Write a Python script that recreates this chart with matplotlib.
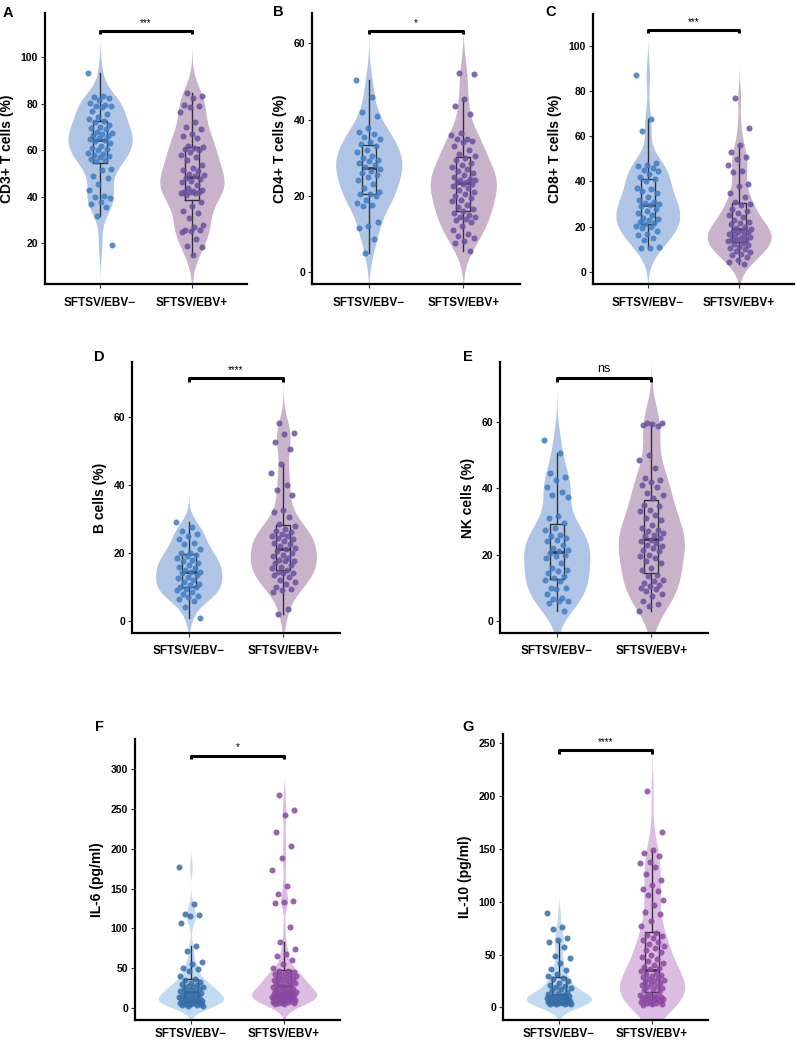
import numpy as np
import matplotlib
matplotlib.use("Agg")
import matplotlib.pyplot as plt

plt.rcParams["font.family"] = ["Liberation Sans", "DejaVu Sans"]

groups = ["SFTSV/EBV\u2212", "SFTSV/EBV+"]

# --- values ---
cd3_neg = [93.4, 83.5, 83, 82.5, 81.5, 80.5, 79.5, 79.2, 79, 78.5, 77, 75.5, 74.5, 73.5,
           72.5, 72, 71, 70, 69.5, 69, 68, 67.5, 67, 66.5, 66, 65.5, 65, 64.5, 64, 63, 62,
           61, 60.5, 60, 59, 58.5, 58, 57.5, 57, 56.5, 56, 55.5,
           52, 51.5, 49, 48, 45.5, 43, 40.5, 40, 39.5, 38, 37, 35.5, 32, 19.5]
cd3_pos = [84.5, 83.5, 82.5, 79.5, 79, 78.5, 76.5, 72, 70, 69, 67, 66, 65.5, 62, 61.5,
           61, 60.5, 60, 59.5, 58, 57, 56, 53.5, 52.5, 51.5, 51, 50, 49.5, 49, 48, 47.5,
           47, 46.5, 45, 44, 43, 42.5, 42.2, 42, 42, 41.8, 41.5, 41, 38, 36, 34, 33, 31,
           28, 27, 26, 26, 25.5, 25, 22, 19, 18.5, 15]

cd4_neg = [50.5, 46, 42, 41, 37.8, 36.7, 36.2, 35.5, 35, 34, 33.5, 33, 32, 31.5, 30.5,
           30, 29.5, 29, 28.5, 28, 27.5, 27, 26.5, 26, 25.5, 25, 24, 23, 22, 21, 20.5,
           20.5, 20, 19, 18, 17.5, 17.2, 13, 12, 11.5, 8.5, 5]
cd4_pos = [52.2, 52, 45.5, 43.5, 41.5, 36.5, 36, 35, 35, 34.5, 34, 33, 32, 31, 30.5, 30,
           29.5, 28.5, 28, 27.5, 27, 26.5, 26, 25.5, 25, 24.5, 24, 24, 23.5, 23.5, 23, 23,
           22.5, 22, 21.5, 21, 20.5, 20, 19.5, 19, 18.5, 17.5, 17, 16.5, 16, 15.5, 15,
           14.5, 14.5, 14, 13.5, 13, 12, 11, 10, 9.5, 9, 8, 7.5, 5.5]

cd8_neg = [87, 67.5, 62.5, 48, 47.5, 47, 46, 45, 44.5, 43.5, 42, 41, 40, 37, 36.5, 36,
           35, 33, 32, 31, 30.5, 30, 29.5, 29, 28, 27, 26, 25, 24, 23.5, 23, 22, 21.5, 21,
           20.5, 20, 19.5, 18, 17, 16.5, 15, 14, 11, 10.5, 10.5]
cd8_pos = [77, 63.5, 56, 53, 51, 50, 47.5, 44.5, 44, 39, 38, 35, 33, 31, 30, 29.5, 28,
           27, 26, 25, 24.5, 23, 22, 21.5, 21, 20, 19.5, 19, 18.5, 18, 17.5, 17.5, 17,
           16.5, 16, 15.5, 15, 14.5, 14, 14, 13.5, 13, 12.5, 12, 11, 10.5, 10, 9.5, 9, 8,
           7.5, 6.5, 5.5, 4.5, 3.5]

b_neg = [29, 27.5, 26.5, 25.5, 25, 24, 23, 22.5, 21, 20, 20, 19.5, 19, 18.5, 18, 17.5,
         17, 16.5, 16, 15.5, 15, 14.5, 14.5, 14, 13.5, 13, 12.5, 12, 11.5, 11, 10.5, 10,
         10, 9.5, 9, 8.5, 8, 7.5, 7, 6.5, 6, 4, 1]
b_pos = [58, 55.2, 55, 52.5, 50.5, 46, 43.5, 40, 38.5, 37, 32.5, 32, 30.5, 28.5, 28, 27,
         26.5, 26, 25.5, 25, 25, 24.5, 24, 23.5, 23, 22.5, 22, 21.5, 21, 20.5, 20, 19.5,
         19, 18.5, 18, 17.5, 17.5, 17, 16.5, 16, 15.5, 15, 14.5, 14, 14, 13.5, 13, 12,
         11.5, 11, 10, 9.5, 9, 8.5, 3.5, 2]

nk_neg = [54.5, 50.5, 44.5, 43.5, 42.5, 40.5, 39, 38, 37.5, 31.5, 31, 29.5, 28, 27.5, 26,
          25.5, 25, 24.5, 24, 23, 22, 21.5, 21, 20.5, 20, 19.5, 19, 17.5, 16, 15.5, 15,
          14.5, 13.5, 13, 12.5, 12, 10, 10, 9.5, 8, 7, 6.5, 6, 6, 5.5, 3]
nk_pos = [59.7, 59.5, 59.3, 59, 58.8, 50, 48.5, 46, 43, 42.5, 42, 41, 40.5, 38.5, 38, 37,
          35, 34.5, 33.5, 33, 32, 31, 30.5, 29, 28, 27.5, 27, 26.5, 26, 25.5, 25, 24.5,
          24, 23.5, 23, 22.5, 22, 21.5, 21, 20, 19.5, 19, 18, 17.5, 16, 15.5, 14, 13.5,
          12.5, 12, 11.5, 11, 10.5, 10, 9.5, 9, 8, 7.5, 6, 5, 4.5, 3]

il6_neg = [177, 131, 118, 117, 115.5, 107, 78, 72, 58, 55, 50, 49, 46, 40,
           36, 35, 33, 32, 30, 29, 28, 27, 26, 25, 24, 23, 22, 21,
           20, 19, 18, 17, 16, 15, 14, 13.5, 13, 12, 11.5, 11, 10, 9.5,
           9, 8.5, 8, 7.5, 7, 6.5, 6, 5.5, 5, 4.5, 4, 3.5, 3, 2.5]
il6_pos = [268, 249, 242, 221, 204, 189, 174, 153, 143, 134, 133, 132, 102, 83, 74, 68,
           66, 61, 55, 50,
           47, 46, 45, 44, 43, 42, 41, 40, 39, 38, 37, 36, 35, 34, 33, 32, 31, 30, 29, 28,
           27, 26, 25, 24, 23, 22, 21.5, 21, 20.5, 20, 19.5, 19, 18.5, 18, 17.5, 17, 16.5,
           16, 15.5, 15,
           14.5, 14, 13.5, 13, 12.5, 12, 11.5, 11, 10.5, 10, 9.5, 9, 8.5, 8, 7.5, 7, 6.5,
           6, 5.5, 5]

il10_neg = [89, 76, 74, 65.5, 64, 61.5, 57, 49, 47, 42, 36, 35, 32, 30,
            28, 27, 25, 23, 21, 20, 19, 18, 17, 16, 15, 14, 13, 12,
            11, 10.5, 10, 9.5, 9, 8.8, 8.5, 8, 7.5, 7.2, 7, 6.8, 6.5, 6.2,
            6, 5.8, 5.5, 5.3, 5, 4.8, 4.5, 4.3, 4, 3.8, 3.5, 3.3, 3, 2.8]
il10_pos = [205, 166, 149, 146, 143, 138, 137, 133, 126, 121, 116, 112, 110, 106, 102, 97,
            90, 88, 82, 77,
            70, 69, 68, 66, 64, 62, 60, 58, 56, 54, 52, 50, 48, 46, 44, 42, 40, 38, 37, 36,
            34, 33, 32, 31, 30, 29, 28, 27, 26, 25, 24, 23, 22, 21, 20, 19, 18, 17, 16, 15,
            13, 12, 11, 10.5, 10, 9.5, 9, 8.5, 8, 7.5, 7, 6.5, 6, 5.5, 5, 4.5, 4, 3.5, 3,
            2.5]

ylabels = ["CD3+ T cells (%)", "CD4+ T cells (%)", "CD8+ T cells (%)", "B cells (%)",
           "NK cells (%)", "IL-6 (pg/ml)", "IL-10 (pg/ml)"]
letters = ["A", "B", "C", "D", "E", "F", "G"]
signif = ["***", "*", "***", "****", "ns", "*", "****"]
sig_y = [111.3, 63.3, 106.9, 71.2, 73.1, 317, 243.6]

W, H = 796, 1041
# axes boxes in pixels: x0, x1, y0 (top), y1 (bottom)
boxes = [(45, 247, 13, 284), (312, 520, 13, 284), (593, 794, 14, 284),
         (132, 340, 362, 633), (500, 708, 362, 633),
         (135, 340, 739, 1020), (503, 708, 734, 1020)]
ylims = [(2.6, 119), (-3.2, 68), (-5.3, 114), (-3.5, 76), (-3.6, 78), (-15, 338), (-12, 259)]
yticks = [[20, 40, 60, 80, 100], [0, 20, 40, 60], [0, 20, 40, 60, 80, 100], [0, 20, 40, 60],
          [0, 20, 40, 60], [0, 50, 100, 150, 200, 250, 300], [0, 50, 100, 150, 200, 250]]
letter_pos = [(3, 6), (273, 5), (545, 5), (94, 350), (463, 350), (95, 720), (462, 720)]

data = [(cd3_neg, cd3_pos), (cd4_neg, cd4_pos), (cd8_neg, cd8_pos), (b_neg, b_pos),
        (nk_neg, nk_pos), (il6_neg, il6_pos), (il10_neg, il10_pos)]

cells_col = (("#b0c5e6", "#3f7cc2"), ("#c8b3cb", "#6a509f"))
cyto_col = (("#c3dbf1", "#356ea8"), ("#dbbde1", "#8b48a0"))


def kde_violin(ax, vals, pos, color, width=0.7):
    vals = np.asarray(vals, float)
    n = len(vals)
    q75, q25 = np.percentile(vals, [75, 25])
    bw = 0.9 * min(vals.std(ddof=1), (q75 - q25) / 1.34) * n ** -0.2
    grid = np.linspace(vals.min() - 3 * bw, vals.max() + 3 * bw, 400)
    dens = np.exp(-0.5 * ((grid[:, None] - vals[None, :]) / bw) ** 2).sum(axis=1)
    dens = dens / dens.max() * width / 2
    ax.fill_betweenx(grid, pos - dens, pos + dens, color=color, lw=0, zorder=1)


fig = plt.figure(figsize=(W / 100, H / 100), dpi=100)

for i in range(7):
    x0, x1, y0, y1 = boxes[i]
    ax = fig.add_axes([x0 / W, 1 - y1 / H, (x1 - x0) / W, (y1 - y0) / H])
    cols = cyto_col if i >= 5 else cells_col
    for j, vals in enumerate(data[i]):
        pos = j + 1
        kde_violin(ax, vals, pos, cols[j][0])
        ax.boxplot([vals], positions=[pos], widths=0.15, showfliers=False,
                   patch_artist=False, manage_ticks=False, zorder=3,
                   boxprops=dict(color="#333333", lw=1.0),
                   whiskerprops=dict(color="#333333", lw=1.0),
                   capprops=dict(lw=0),
                   medianprops=dict(color="#333333", lw=2.0))
        k = np.arange(len(vals))
        jit = ((k * 0.6180339 + 0.31 * j) % 1 - 0.5) * 0.26
        ax.scatter(pos + jit, vals, s=19, color=cols[j][1], alpha=0.85,
                   lw=0, zorder=4)

    lo, hi = ylims[i]
    ax.set_xlim(0.4, 2.6)
    ax.set_ylim(lo, hi)
    ax.set_yticks(yticks[i])
    ax.set_xticks([1, 2])
    ax.set_xticklabels(groups)
    for s in ["top", "right"]:
        ax.spines[s].set_visible(False)
    for s in ["left", "bottom"]:
        ax.spines[s].set_linewidth(1.6)
    ax.tick_params(axis="both", length=3, width=0.8, color="#333333")
    ax.tick_params(axis="y", labelsize=7.5, pad=2)
    ax.tick_params(axis="x", labelsize=8.5, pad=3 if i >= 5 else 6)
    for lab in ax.get_xticklabels() + ax.get_yticklabels():
        lab.set_fontweight("bold")
    ax.set_ylabel(ylabels[i], fontsize=10, fontweight="bold", labelpad=5)

    # significance bracket
    yb = sig_y[i]
    d = (hi - lo) * 0.012
    ax.plot([1, 1, 2, 2], [yb - d, yb, yb, yb - d], color="black", lw=2.2,
            solid_capstyle="butt", zorder=5, clip_on=False)
    fs = 9 if signif[i] == "ns" else 7
    ax.text(1.5, yb + (hi - lo) * 0.012, signif[i], ha="center", va="bottom",
            fontsize=fs, zorder=5)

    lx, ly = letter_pos[i]
    fig.text(lx / W, 1 - ly / H, letters[i], fontsize=10.5, fontweight="bold",
             ha="left", va="top")

fig.savefig("out.png", dpi=100)
